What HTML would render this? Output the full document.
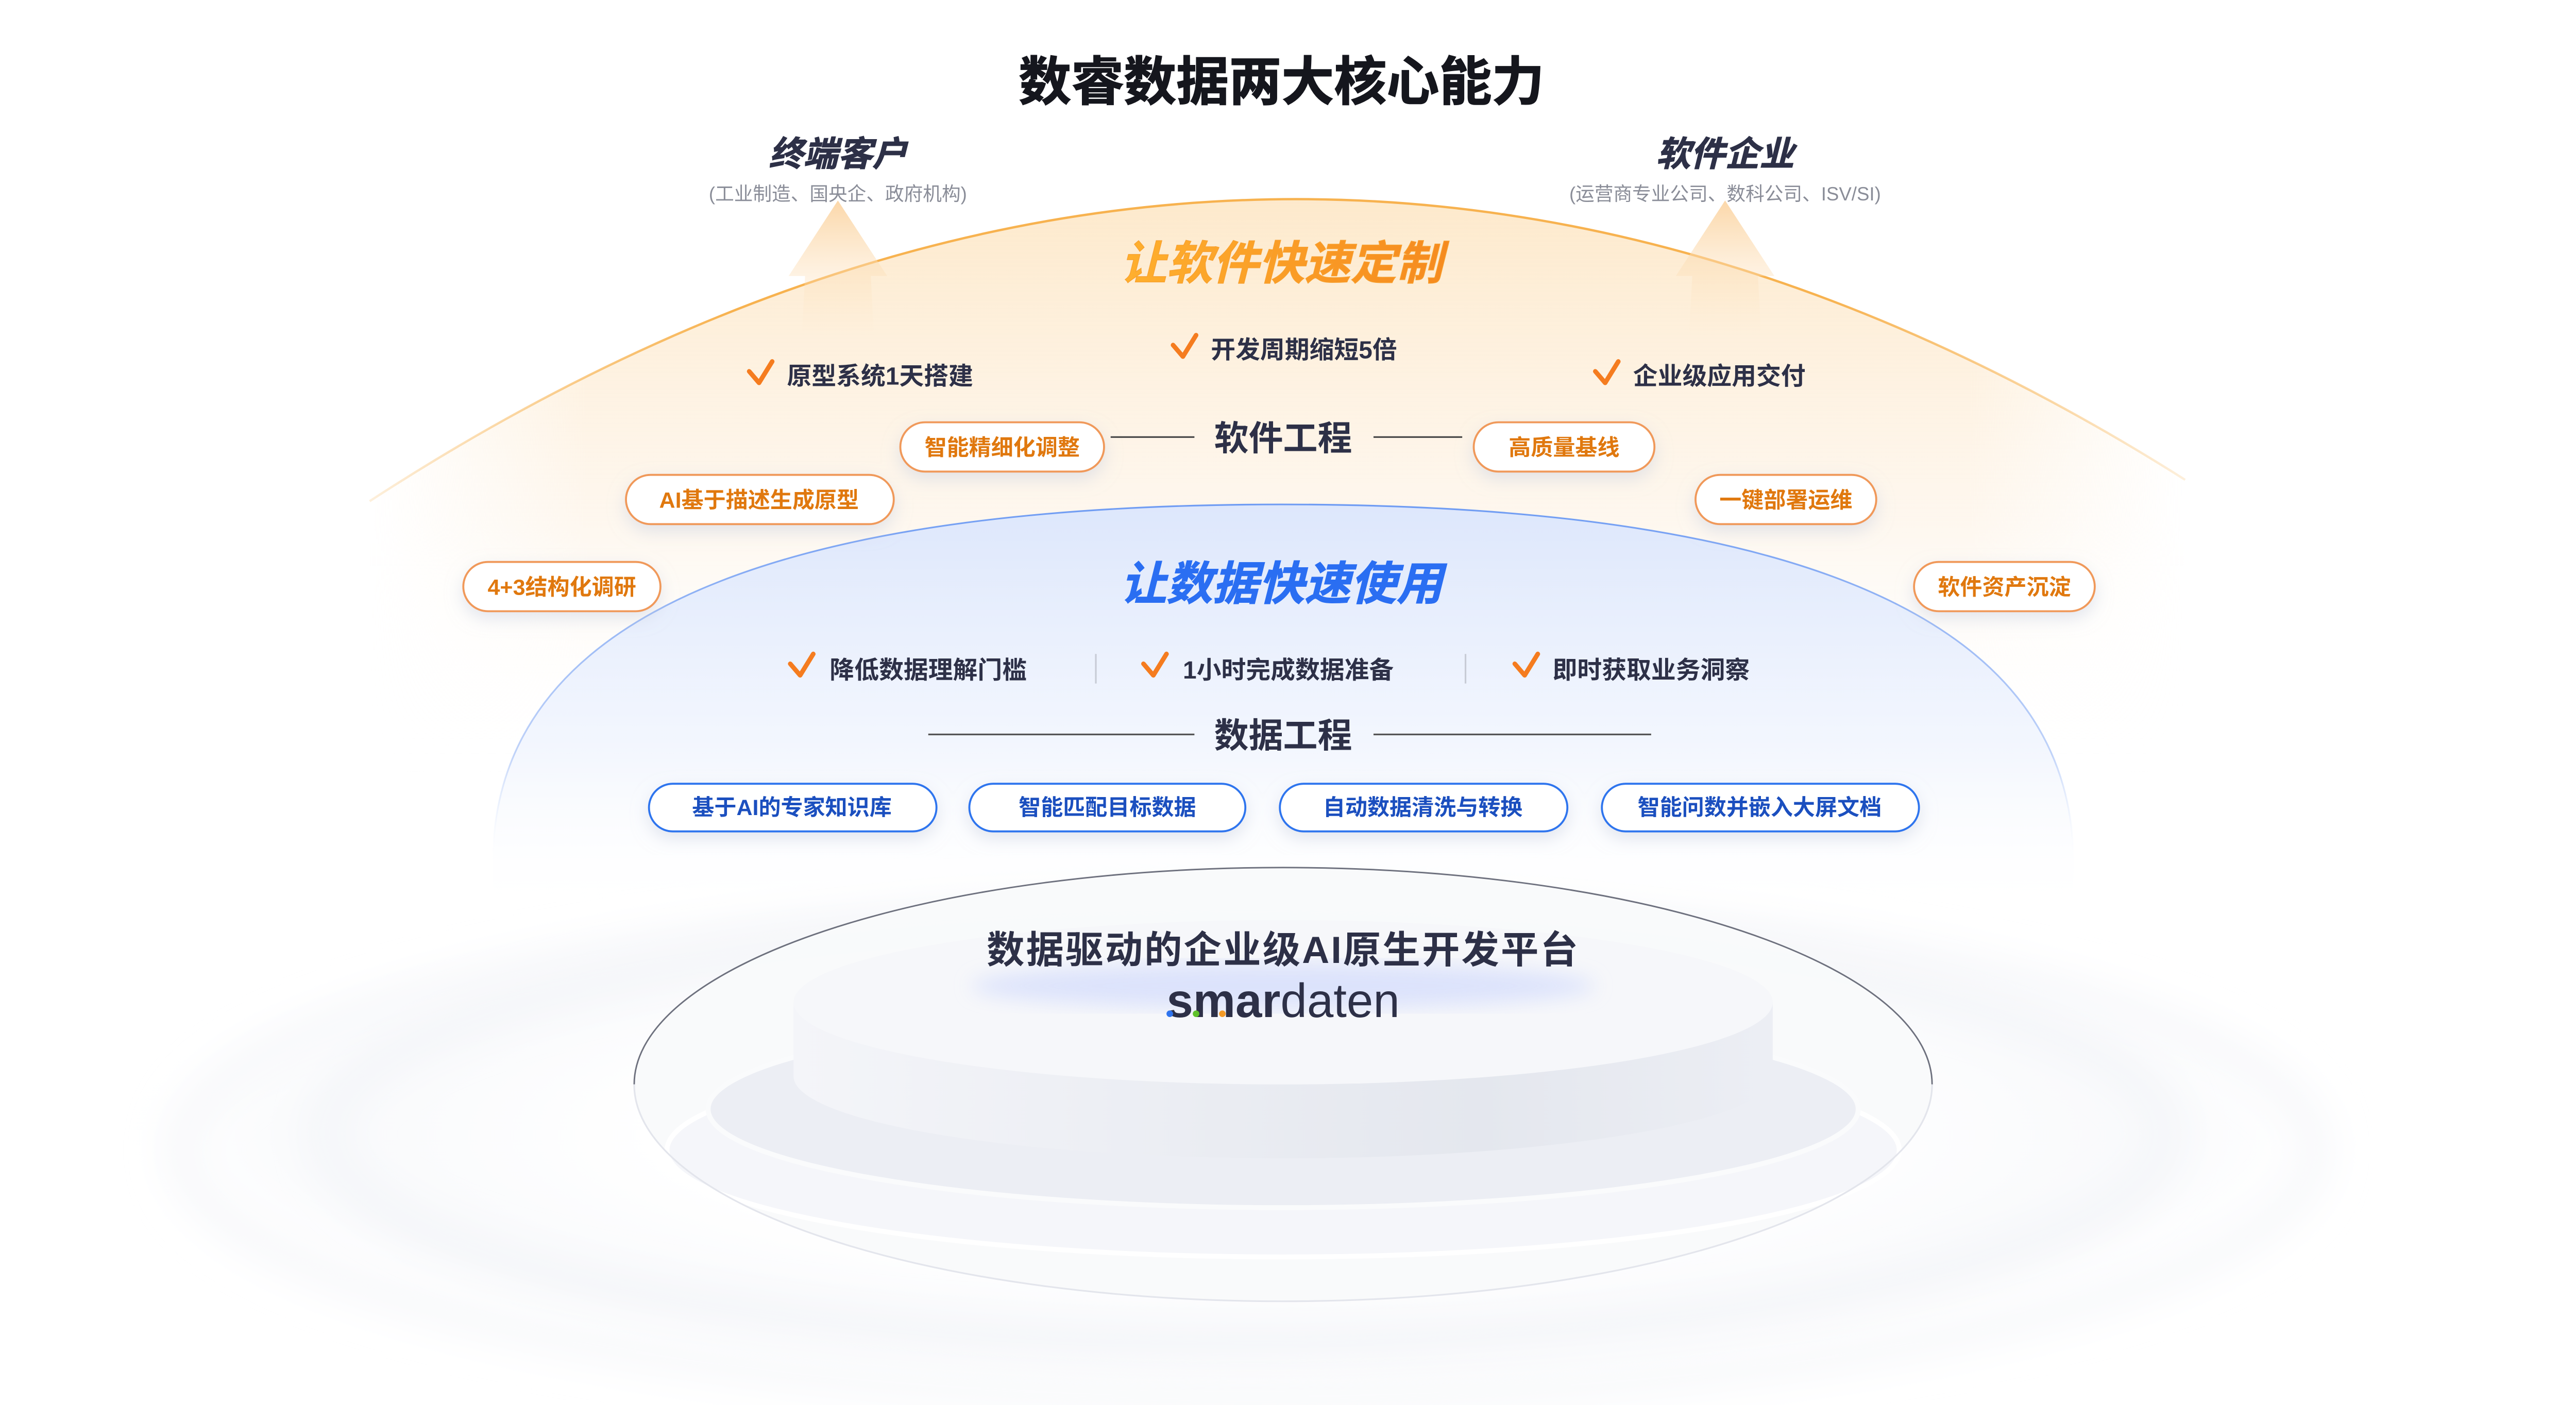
<!DOCTYPE html>
<html><head><meta charset="utf-8"><style>
html,body{margin:0;padding:0;background:#fff;}
svg{display:block;}
text{font-family:"Liberation Sans","Noto Sans CJK SC",sans-serif;}
</style></head><body>
<svg width="5080" height="2727" viewBox="0 0 1593 855.1" xmlns="http://www.w3.org/2000/svg">
<defs>
<linearGradient id="og" x1="0" y1="0" x2="0" y2="1">
<stop offset="0" stop-color="#fde7c6" stop-opacity="0.9"/>
<stop offset="0.45" stop-color="#fdf2e4" stop-opacity="0.6"/>
<stop offset="0.8" stop-color="#ffffff" stop-opacity="0"/>
</linearGradient>
<linearGradient id="hf" x1="0" y1="0" x2="1" y2="0">
<stop offset="0" stop-color="#fff" stop-opacity="0"/>
<stop offset="0.12" stop-color="#fff" stop-opacity="1"/>
<stop offset="0.88" stop-color="#fff" stop-opacity="1"/>
<stop offset="1" stop-color="#fff" stop-opacity="0"/>
</linearGradient>
<mask id="hm" maskUnits="userSpaceOnUse" x="0" y="0" width="1593" height="855">
<rect x="225" y="100" width="1105" height="500" fill="url(#hf)"/>
</mask>
<linearGradient id="bg" x1="0" y1="0" x2="0" y2="1">
<stop offset="0" stop-color="#d7e4ff"/>
<stop offset="0.6" stop-color="#eef3fd" stop-opacity="0.8"/>
<stop offset="1" stop-color="#ffffff" stop-opacity="0"/>
</linearGradient>
<linearGradient id="bs" x1="0" y1="0" x2="0" y2="1">
<stop offset="0" stop-color="#6f9cf3"/>
<stop offset="0.7" stop-color="#9ab8f5" stop-opacity="0.6"/>
<stop offset="1" stop-color="#ffffff" stop-opacity="0"/>
</linearGradient>
<linearGradient id="os" x1="0" y1="0" x2="1" y2="0">
<stop offset="0" stop-color="#f7b24f" stop-opacity="0.2"/>
<stop offset="0.2" stop-color="#f7b24f"/>
<stop offset="0.8" stop-color="#f7b24f"/>
<stop offset="1" stop-color="#f7b24f" stop-opacity="0.2"/>
</linearGradient>
<linearGradient id="ag" x1="0" y1="0" x2="0" y2="1">
<stop offset="0" stop-color="#fbd3a0" stop-opacity="0.9"/>
<stop offset="1" stop-color="#fde9cc" stop-opacity="0"/>
</linearGradient>
<linearGradient id="ot" x1="0" y1="0" x2="1" y2="0">
<stop offset="0" stop-color="#ffb02e"/><stop offset="1" stop-color="#f58a1f"/>
</linearGradient>
<linearGradient id="cyl" x1="0" y1="0" x2="1" y2="0">
<stop offset="0" stop-color="#f4f5f9"/><stop offset="0.7" stop-color="#e4e7ee"/><stop offset="1" stop-color="#eceef4"/>
</linearGradient>
<radialGradient id="rip" cx="0.5" cy="0.5" r="0.5">
<stop offset="0.5" stop-color="#f1f3f8" stop-opacity="0"/>
<stop offset="0.8" stop-color="#f2f4f8" stop-opacity="0.5"/>
<stop offset="1" stop-color="#fff" stop-opacity="0"/>
</radialGradient>
<filter id="sh" x="-20%" y="-50%" width="140%" height="200%"><feDropShadow dx="0" dy="4" stdDeviation="5" flood-color="#c8cfe0" flood-opacity="0.5"/></filter>
<filter id="bl"><feGaussianBlur stdDeviation="6"/></filter>
<filter id="bl2"><feGaussianBlur stdDeviation="12"/></filter>
</defs>

<ellipse cx="750" cy="690" rx="700" ry="160" fill="url(#rip)"/>
<ellipse cx="760" cy="690" rx="560" ry="130" fill="none" stroke="#f3f4f8" stroke-width="14" filter="url(#bl2)"/>
<ellipse cx="760" cy="700" rx="650" ry="150" fill="none" stroke="#f5f6f9" stroke-width="14" filter="url(#bl2)"/>

<g mask="url(#hm)">
<path d="M225 305 Q780 -56 1330 292 L1330 560 L225 560 Z" fill="url(#og)"/>
</g>
<path d="M225 305 Q780 -56 1330 292" fill="none" stroke="url(#os)" stroke-width="1.4"/>

<path d="M510 122 L540 168 L530 168 L532 205 L488 205 L490 168 L480 168 Z" fill="url(#ag)"/>
<path d="M1050 122 L1080 168 L1070 168 L1072 205 L1028 205 L1030 168 L1020 168 Z" fill="url(#ag)"/>

<text x="780" y="61" text-anchor="middle" font-size="32" font-weight="bold" fill="#15161d" stroke="#15161d" stroke-width="0.5">数睿数据两大核心能力</text>
<text x="510" y="101" text-anchor="middle" font-size="21" font-weight="bold" font-style="italic" fill="#2d3047" stroke="#2d3047" stroke-width="0.4">终端客户</text>
<text x="510" y="122" text-anchor="middle" font-size="11.5" fill="#8a8d98">(工业制造、国央企、政府机构)</text>
<text x="1050" y="101" text-anchor="middle" font-size="21" font-weight="bold" font-style="italic" fill="#2d3047" stroke="#2d3047" stroke-width="0.4">软件企业</text>
<text x="1050" y="122" text-anchor="middle" font-size="11.5" fill="#8a8d98">(运营商专业公司、数科公司、ISV/SI)</text>

<text x="780" y="170" text-anchor="middle" font-size="28" font-weight="bold" font-style="italic" fill="url(#ot)" stroke="#f7a030" stroke-width="0.4">让软件快速定制</text>

<g font-size="15" fill="#2d3047" font-weight="bold">
<text x="479" y="234">原型系统1天搭建</text>
<text x="737" y="218">开发周期缩短5倍</text>
<text x="994" y="234">企业级应用交付</text>
</g>
<g fill="none" stroke="#f57c1f" stroke-width="2.8" stroke-linecap="round" stroke-linejoin="round">
<path d="M456 226 L462 233 L470 220"/>
<path d="M714 210 L720 217 L728 204"/>
<path d="M971 226 L977 233 L985 220"/>
</g>

<text x="781" y="274" text-anchor="middle" font-size="21" font-weight="bold" fill="#2d3047">软件工程</text>
<line x1="676" y1="266" x2="727" y2="266" stroke="#444" stroke-width="1"/>
<line x1="836" y1="266" x2="890" y2="266" stroke="#444" stroke-width="1"/>

<path d="M300 525 Q300 307 780 307 Q1262 307 1262 525 L1262 560 L300 560 Z" fill="url(#bg)" opacity="0.85"/>
<path d="M300 525 Q300 307 780 307 Q1262 307 1262 525" fill="none" stroke="url(#bs)" stroke-width="1"/>

<g filter="url(#sh)" fill="#fff" stroke="#f0995a" stroke-width="1.2">
<rect x="548" y="257" width="124" height="30" rx="15"/>
<rect x="897" y="257" width="110" height="30" rx="15"/>
<rect x="381" y="289" width="163" height="30" rx="15"/>
<rect x="1032" y="289" width="110" height="30" rx="15"/>
<rect x="282" y="342" width="120" height="30" rx="15"/>
<rect x="1165" y="342" width="110" height="30" rx="15"/>
</g>
<g font-size="13.5" font-weight="bold" fill="#e0780e" text-anchor="middle">
<text x="610" y="277">智能精细化调整</text>
<text x="952" y="277">高质量基线</text>
<text x="462" y="309">AI基于描述生成原型</text>
<text x="1087" y="309">一键部署运维</text>
<text x="342" y="362">4+3结构化调研</text>
<text x="1220" y="362">软件资产沉淀</text>
</g>

<text x="780" y="365" text-anchor="middle" font-size="28" font-weight="bold" font-style="italic" fill="#2a6ef2" stroke="#2a6ef2" stroke-width="0.4">让数据快速使用</text>

<g font-size="15" fill="#2d3047" font-weight="bold">
<text x="505" y="413">降低数据理解门槛</text>
<text x="720" y="413">1小时完成数据准备</text>
<text x="945" y="413">即时获取业务洞察</text>
</g>
<g fill="none" stroke="#f57c1f" stroke-width="2.8" stroke-linecap="round" stroke-linejoin="round">
<path d="M481 404 L487 411 L495 398"/>
<path d="M696 404 L702 411 L710 398"/>
<path d="M922 404 L928 411 L936 398"/>
</g>
<line x1="667" y1="398" x2="667" y2="416" stroke="#c8ccd6" stroke-width="1"/>
<line x1="892" y1="398" x2="892" y2="416" stroke="#c8ccd6" stroke-width="1"/>

<text x="781" y="455" text-anchor="middle" font-size="21" font-weight="bold" fill="#2d3047">数据工程</text>
<line x1="565" y1="447" x2="727" y2="447" stroke="#555" stroke-width="1"/>
<line x1="836" y1="447" x2="1005" y2="447" stroke="#555" stroke-width="1"/>

<g filter="url(#sh)" fill="#fff" stroke="#2f74ee" stroke-width="1.2">
<rect x="395" y="477" width="175" height="29" rx="14.5"/>
<rect x="590" y="477" width="168" height="29" rx="14.5"/>
<rect x="779" y="477" width="175" height="29" rx="14.5"/>
<rect x="975" y="477" width="193" height="29" rx="14.5"/>
</g>
<g font-size="13.5" font-weight="bold" fill="#1b4fbf" text-anchor="middle">
<text x="482" y="496">基于AI的专家知识库</text>
<text x="674" y="496">智能匹配目标数据</text>
<text x="866" y="496">自动数据清洗与转换</text>
<text x="1071" y="496">智能问数并嵌入大屏文档</text>
</g>

<ellipse cx="781" cy="660" rx="395" ry="132" fill="#f8f9fb" opacity="0.9"/>
<ellipse cx="781" cy="700" rx="375" ry="65" fill="#f5f6fa" stroke="#fff" stroke-width="3"/>
<ellipse cx="781" cy="675" rx="350" ry="60" fill="#eceef4" stroke="#fafbfc" stroke-width="3"/>
<path d="M483 610 L483 655 A298 50 0 0 0 1079 655 L1079 610 Z" fill="url(#cyl)"/>
<ellipse cx="781" cy="610" rx="298" ry="50" fill="#f6f7fa"/>
<path d="M386 660 A395 132 0 0 1 1176 660" fill="none" stroke="#4a4d5e" stroke-width="0.9" opacity="0.8"/>
<path d="M386 660 A395 132 0 0 0 1176 660" fill="none" stroke="#e3e5ec" stroke-width="1"/>

<ellipse cx="781" cy="600" rx="190" ry="14" fill="#d6defc" filter="url(#bl)" opacity="0.8"/>
<text x="781" y="586" text-anchor="middle" font-size="23" font-weight="bold" fill="#2d3047" letter-spacing="1">数据驱动的企业级AI原生开发平台</text>
<text x="781" y="619" text-anchor="middle" font-size="29" fill="#2d3047"><tspan font-weight="bold">smar</tspan><tspan font-weight="normal">daten</tspan></text>
<circle cx="712" cy="617" r="2" fill="#2f74ee"/>
<circle cx="728" cy="617" r="2" fill="#5fc12a"/>
<circle cx="744" cy="617" r="2" fill="#f39a26"/>
</svg>
</body></html>
